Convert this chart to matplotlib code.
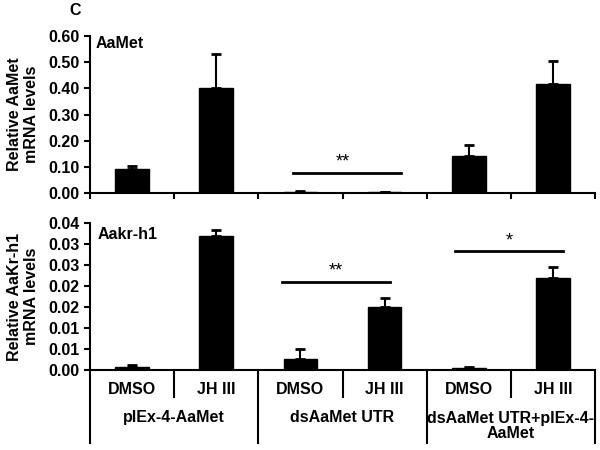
import numpy as np
import matplotlib
matplotlib.use("Agg")
import matplotlib.pyplot as plt
from matplotlib.ticker import FixedLocator, FixedFormatter

plt.rcParams['font.family'] = ['Liberation Sans', 'DejaVu Sans']
plt.rcParams['font.weight'] = 'bold'
plt.rcParams['font.size'] = 11

treatments = ['DMSO', 'JH III', 'DMSO', 'JH III', 'DMSO', 'JH III']
groups = ['pIEx-4-AaMet', 'dsAaMet UTR', 'dsAaMet UTR+pIEx-4-\nAaMet']

met_mean = [0.090, 0.403, 0.004, 0.002, 0.140, 0.418]
met_err = [0.013, 0.127, 0.005, 0.0, 0.042, 0.085]

kr_mean = [0.0008, 0.0320, 0.0026, 0.0149, 0.0005, 0.0220]
kr_err = [0.0003, 0.0013, 0.0023, 0.0022, 0.0002, 0.0025]

met_ticks = [0.0, 0.1, 0.2, 0.3, 0.4, 0.5, 0.6]
kr_ticks = [0.0, 0.005, 0.010, 0.015, 0.020, 0.025, 0.030, 0.035]
kr_tick_labels = ['0.00', '0.01', '0.01', '0.02', '0.02', '0.03', '0.03', '0.04']

fig = plt.figure(figsize=(6, 4.5), dpi=100)
ax1 = fig.add_axes([0.15, 0.5711, 0.8417, 0.3489])
ax2 = fig.add_axes([0.15, 0.1778, 0.8417, 0.3267])

x = np.arange(len(treatments))
lw = 1.5

for ax, mean, err in [(ax1, met_mean, met_err), (ax2, kr_mean, kr_err)]:
    ax.bar(x, mean, width=0.4, color='black', edgecolor='black')
    ax.errorbar(x, mean, yerr=[np.zeros(len(err)), err], fmt='none',
                ecolor='black', elinewidth=1.5, capsize=3.5, capthick=2)
    ax.set_xlim(-0.5, 5.5)
    for s in ['top', 'right']:
        ax.spines[s].set_visible(False)
    for s in ['left', 'bottom']:
        ax.spines[s].set_linewidth(lw)
    ax.tick_params(axis='y', direction='out', length=4, width=lw, labelsize=11.5)

# top panel
ax1.set_ylim(0, 0.6)
ax1.set_yticks(met_ticks)
ax1.set_yticklabels(['%.2f' % t for t in met_ticks])
ax1.set_xticks(np.arange(-0.5, 6, 1))
ax1.set_xticklabels([])
ax1.tick_params(axis='x', direction='out', length=4, width=lw)
ax1.set_ylabel('Relative AaMet\nmRNA levels', fontsize=11.5, fontweight='bold',
               labelpad=7, linespacing=1.15)
ax1.text(0.012, 0.95, 'AaMet', transform=ax1.transAxes, fontsize=11.5,
         fontweight='bold', va='center', ha='left')

ax1.plot([1.91, 3.19], [0.076, 0.076], color='black', lw=2)
ax1.text(2.5, 0.085, '**', ha='center', va='bottom', fontsize=13, fontweight='normal')

# bottom panel
ax2.set_ylim(0, 0.035)
ax2.yaxis.set_major_locator(FixedLocator(kr_ticks))
ax2.yaxis.set_major_formatter(FixedFormatter(kr_tick_labels))
ax2.set_xticks([])
ax2.set_ylabel('Relative AaKr-h1\nmRNA levels', fontsize=11.5, fontweight='bold',
               labelpad=7, linespacing=1.15)
ax2.text(0.015, 0.92, 'Aakr-h1', transform=ax2.transAxes, fontsize=11.5,
         fontweight='bold', va='center', ha='left')

ax2.plot([1.78, 3.06], [0.021, 0.021], color='black', lw=2)
ax2.text(2.42, 0.0215, '**', ha='center', va='bottom', fontsize=13, fontweight='normal')
ax2.plot([3.84, 5.12], [0.0283, 0.0283], color='black', lw=2)
ax2.text(4.48, 0.0288, '*', ha='center', va='bottom', fontsize=13, fontweight='normal')

# category labels under the bottom axis
tr = ax2.get_xaxis_transform()
for i, t in enumerate(treatments):
    ax2.text(x[i], -0.136, t, transform=tr, ha='center', va='center', fontsize=11.5)
for g, name in enumerate(groups):
    ax2.text(2 * g + 0.5, -0.32 if '\n' not in name else -0.38, name, transform=tr,
             ha='center', va='center', fontsize=11.5, linespacing=1.0)
for b in [0.5, 2.5, 4.5]:
    ax2.plot([b, b], [0, -0.184], transform=tr, color='black', lw=lw, clip_on=False)
for b in [-0.5, 1.5, 3.5, 5.5]:
    ax2.plot([b, b], [0, -0.497], transform=tr, color='black', lw=lw, clip_on=False)

fig.text(0.125, 0.977, 'C', fontsize=11.5, fontweight='bold', ha='center', va='center')

fig.savefig('out.png', dpi=100)
